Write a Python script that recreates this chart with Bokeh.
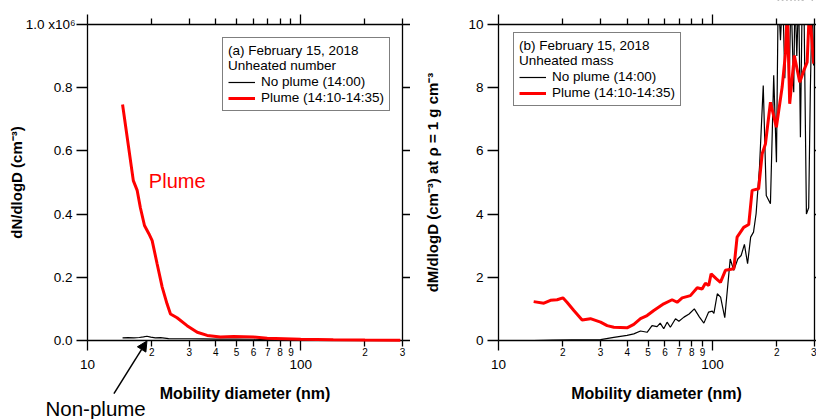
import math
from bokeh.plotting import figure
from bokeh.layouts import row
from bokeh.models import (Range1d, FixedTicker, LogAxis, LinearAxis, Label, Arrow,
                          NormalHead, Legend, LegendItem, BoxAnnotation)
from bokeh.embed import file_html
from bokeh.resources import INLINE

FONT = "Liberation Sans"

# ---------------- data ----------------
# x: mobility diameter (nm)
x_range_nm = [10, 300]
x_minor_ticks = [20, 30, 40, 50, 60, 70, 80, 90, 200, 300]
x_minor_labels = ["2", "3", "4", "5", "6", "7", "8", "9", "2", "3"]
x_major_ticks = [10, 100]
x_major_labels = ["10", "100"]

# panel (a) number distribution, dN/dlogD (cm^-3)
num_range = [0, 1000000]
num_yticks = [0, 200000, 400000, 600000, 800000, 1000000]
num_ylabels = ["0.0", "0.2", "0.4", "0.6", "0.8", ""]

num_plume_d = [14.6, 16.4, 17.1, 17.7, 18.5, 19.4, 20.1, 21.2, 22.4, 23.6, 24.5, 26.3,
               29.3, 32.7, 36.4, 42.0, 48.5, 60.0, 69.6, 100, 142, 200, 293]
num_plume_y = [747000, 506000, 475000, 420000, 364000, 338000, 316000, 243000, 169000,
               116000, 84000, 72000, 47000, 26000, 16000, 11000, 13000, 11000, 7000,
               4000, 2000, 1200, 1000]

num_noplume_d = [14.6, 15.5, 16.5, 17.5, 18.3, 19.0, 19.8, 20.8, 22.0, 24.0, 26.0, 30.0,
                 35.0, 40.0, 50.0, 60.0, 70.0, 80.0, 100, 150, 200, 293]
num_noplume_y = [8500, 9000, 8000, 9500, 11500, 13500, 10500, 8500, 9000, 6000, 5500, 5500,
                 5000, 4500, 4500, 4000, 3000, 2000, 1000, 600, 400, 200]

# panel (b) mass distribution, dM/dlogD at rho = 1 g cm^-3
mass_range = [0, 10]
mass_yticks = [0, 2, 4, 6, 8, 10]
mass_ylabels = ["0", "2", "4", "6", "8", "10"]

mass_plume_d = [14.6, 16.3, 17.5, 18.8, 20.0, 20.9, 22.5, 24.6, 26.9, 30.0, 32.2, 34.6,
                39.9, 42.9, 46.1, 49.5, 53.2, 59.2, 64.8, 68.4, 72.2, 78.9, 84.9, 89.5,
                92.7, 96.1, 98.6, 104.4, 109, 115, 125.9, 130.4, 140, 147.8, 153.3, 164.4,
                170.8, 176.9, 186.7, 199, 211.8, 219.4, 224, 229.7, 241.5, 255.9, 267.3,
                277.2, 284, 297.3]
mass_plume_y = [1.23, 1.18, 1.27, 1.29, 1.35, 1.21, 0.95, 0.65, 0.69, 0.58, 0.47, 0.42,
                0.40, 0.51, 0.69, 0.79, 0.95, 1.16, 1.29, 1.21, 1.35, 1.42, 1.67, 1.63,
                1.81, 1.74, 2.11, 1.95, 1.84, 2.22, 2.27, 3.27, 3.58, 3.67, 4.75, 4.80,
                5.91, 6.22, 7.54, 6.75, 8.02, 9.07, 10.5, 7.49, 9.02, 8.17, 8.54,
                8.81, 10.5, 8.76]

mass_noplume_d = [14.6, 18, 22, 26, 30, 34.6, 39.9, 42.9, 46.1, 49.5, 52.2, 55.1, 57.0,
                  59.2, 61.4, 63.6, 67.2, 69.7, 73.6, 77.8, 82.3, 87.0, 91.2, 96.0, 99.8,
                  101.6, 105.4, 109.2, 114.2, 121.1, 125.8, 131.4, 136.2, 141.1, 146.0,
                  150.9, 155.6, 160.0, 166, 172.8, 178.5, 186.7, 193.4, 199.2, 203, 208,
                  213, 218, 223, 228, 233, 239.9, 243, 248, 253, 257.8, 263, 268, 275,
                  281.8, 287, 293, 297]
mass_noplume_y = [0.0, 0.01, 0.02, 0.02, 0.03, 0.10, 0.16, 0.21, 0.30, 0.26, 0.47, 0.44,
                  0.55, 0.37, 0.58, 0.42, 0.69, 0.61, 0.74, 0.84, 1.00, 0.74, 0.55, 0.90,
                  0.93, 0.86, 1.48, 1.37, 0.72, 2.58, 2.22, 2.58, 2.69, 3.04, 2.43, 3.27,
                  3.43, 4.01, 5.5, 8.07, 4.59, 4.33, 8.39, 5.64, 11, 9.5, 11, 8.3, 11,
                  7.9, 11, 7.86, 11, 9.0, 11, 6.43, 11, 10.5, 4.0, 4.2, 8.0, 11, 8.7]

RED = "#ff0000"
AXW = 1.3

# ---------------- layout geometry (pixels) ----------------
FIG_H = 419
PT, PB = 24, 340             # plot-area top/bottom (same in both panels)
A_W, A_PL, A_PR = 410, 87, 402   # panel (a) canvas width, plot-area left/right
B_W, B_PL, B_PR = 406, 88, 404   # panel (b) canvas width, plot-area left/right


def line_style(ax):
    ax.axis_line_color = "black"
    ax.axis_line_width = AXW
    ax.major_tick_line_color = "black"
    ax.minor_tick_line_color = "black"
    ax.major_tick_line_width = AXW
    ax.minor_tick_line_width = AXW
    ax.major_tick_in = 0
    ax.minor_tick_in = 0


def make_panel(width, pl, pr, yrange, yticks, ylabels, ytitle, ytitle_standoff,
               right_tick_out):
    """Frame covers the whole canvas; axes are placed at fixed data locations."""
    dec_px = (pr - pl) / math.log10(x_range_nm[1] / x_range_nm[0])
    x_lo = 10 ** (math.log10(x_range_nm[0]) - pl / dec_px)
    x_hi = 10 ** (math.log10(x_range_nm[1]) + (width - pr) / dec_px)
    ypp = (yrange[1] - yrange[0]) / (PB - PT)
    y_lo = yrange[0] - (FIG_H - PB) * ypp
    y_hi = yrange[1] + PT * ypp

    p = figure(frame_width=width, frame_height=FIG_H, x_axis_type="log",
               x_range=Range1d(x_lo, x_hi), y_range=Range1d(y_lo, y_hi),
               output_backend="svg", toolbar_location=None,
               min_border_left=0, min_border_right=0, min_border_top=0,
               min_border_bottom=0)
    p.title.visible = False
    p.xgrid.visible = False
    p.ygrid.visible = False
    p.outline_line_color = None
    p.background_fill_color = "white"
    p.border_fill_color = "white"

    xb = (x_range_nm[0], x_range_nm[1])
    yb = (yrange[0], yrange[1])

    # bottom axis 1: ticks, small labels at 2..9
    ax = p.xaxis[0]
    ax.ticker = FixedTicker(ticks=x_minor_ticks, minor_ticks=x_major_ticks)
    ax.major_label_overrides = {t: l for t, l in zip(x_minor_ticks, x_minor_labels)}
    line_style(ax)
    ax.major_tick_out = 6
    ax.minor_tick_out = 10
    ax.major_label_standoff = -3
    ax.major_label_text_font = FONT
    ax.major_label_text_font_size = "10px"
    ax.major_label_text_color = "black"

    # bottom axis 2: decade labels and title
    ax2 = LogAxis(ticker=FixedTicker(ticks=x_major_ticks, minor_ticks=[]),
                  major_label_overrides={t: l for t, l in zip(x_major_ticks, x_major_labels)},
                  axis_line_color=None, major_tick_line_color=None,
                  minor_tick_line_color=None, major_tick_out=0, major_tick_in=0,
                  major_label_standoff=19,
                  major_label_text_font=FONT, major_label_text_font_size="13.5px",
                  major_label_text_color="black",
                  axis_label="Mobility diameter (nm)", axis_label_standoff=13,
                  axis_label_text_font=FONT, axis_label_text_font_size="16px",
                  axis_label_text_font_style="bold", axis_label_text_color="black")
    p.add_layout(ax2, "below")

    # top axis: ticks only
    axt = LogAxis(ticker=FixedTicker(ticks=x_major_ticks, minor_ticks=x_minor_ticks),
                  major_tick_out=10, minor_tick_out=6,
                  major_label_overrides={t: "" for t in x_major_ticks},
                  major_label_text_font_size="1px", major_label_standoff=0)
    line_style(axt)
    p.add_layout(axt, "above")

    # left axis
    ay = p.yaxis[0]
    ay.ticker = FixedTicker(ticks=yticks, minor_ticks=[])
    ay.major_label_overrides = {t: l for t, l in zip(yticks, ylabels)}
    line_style(ay)
    ay.major_tick_out = 11
    ay.minor_tick_line_color = None
    ay.major_label_standoff = 4
    ay.major_label_text_font = FONT
    ay.major_label_text_font_size = "13.5px"
    ay.major_label_text_color = "black"
    ay.axis_label = ytitle
    ay.axis_label_standoff = ytitle_standoff
    ay.axis_label_text_font = FONT
    ay.axis_label_text_font_size = "15px"
    ay.axis_label_text_font_style = "bold"
    ay.axis_label_text_color = "black"

    # right axis: ticks only
    ayr = LinearAxis(ticker=FixedTicker(ticks=yticks, minor_ticks=[]),
                     major_tick_out=right_tick_out,
                     major_label_overrides={t: "" for t in yticks},
                     major_label_text_font_size="1px", major_label_standoff=0)
    line_style(ayr)
    ayr.minor_tick_line_color = None
    p.add_layout(ayr, "right")

    for a in (ax, ax2):
        a.fixed_location = yb[0]
        a.bounds = xb
        a.level = "underlay"
    axt.fixed_location = yb[1]
    axt.bounds = xb
    ay.fixed_location = xb[0]
    ay.bounds = yb
    ayr.fixed_location = xb[1]
    ayr.bounds = yb
    return p, y_hi


def make_legend(title, r_black, r_red, location):
    return Legend(items=[LegendItem(label="No plume (14:00)", renderers=[r_black]),
                         LegendItem(label="Plume (14:10-14:35)", renderers=[r_red])],
                  location=location, title=title,
                  title_text_font=FONT, title_text_font_size="13.5px",
                  title_text_font_style="normal", title_text_color="black",
                  title_standoff=1,
                  label_text_font=FONT, label_text_font_size="13.5px",
                  label_text_color="black",
                  glyph_width=27, glyph_height=14, label_height=14, label_standoff=6,
                  spacing=1, padding=5, border_line_color="black",
                  border_line_width=1.2, background_fill_color="white",
                  background_fill_alpha=1.0)


# ---------------- panel (a) ----------------
pa, _ = make_panel(A_W, A_PL, A_PR, num_range, num_yticks, num_ylabels,
                   "dN/dlogD (cm\u207b\u00b3)", 26, 10)
rb_a = pa.line(num_noplume_d, num_noplume_y, line_color="black", line_width=1.2)
rr_a = pa.line(num_plume_d, num_plume_y, line_color=RED, line_width=3)
pa.add_layout(make_legend("(a) February 15, 2018\nUnheated number", rb_a, rr_a, (222, 308)))

pa.add_layout(Label(x=x_range_nm[0], y=num_range[1], x_offset=-12, text="1.0 x10\u2076",
                    text_align="right", text_baseline="middle", text_font=FONT,
                    text_font_size="13.5px", text_color="black"))
pa.add_layout(Label(x=19.4, y=506000, text="Plume", text_align="left",
                    text_baseline="alphabetic", text_font=FONT, text_font_size="20px",
                    text_color=RED))
pa.add_layout(Label(x=x_range_nm[0], y=-214000, x_offset=-42, text="Non-plume",
                    text_align="left", text_baseline="alphabetic", text_font=FONT,
                    text_font_size="20.5px", text_color="black"))
pa.add_layout(Arrow(end=NormalHead(size=10, fill_color="black", line_color="black"),
                    x_start=13.3, y_start=-168000, x_end=19.0, y_end=-1500,
                    line_color="black", line_width=1.5))

# ---------------- panel (b) ----------------
pb, pb_top = make_panel(B_W, B_PL, B_PR, mass_range, mass_yticks, mass_ylabels,
                        "dM/dlogD (cm\u207b\u00b3) at \u03c1 = 1 g cm\u207b\u00b3", 24, 2)
rb_b = pb.line(mass_noplume_d, mass_noplume_y, line_color="black", line_width=1.2)
rr_b = pb.line(mass_plume_d, mass_plume_y, line_color=RED, line_width=3)
# hide everything drawn above the top of the y range (acts as the plot-area clip)
pb.add_layout(BoxAnnotation(bottom=mass_range[1], top=pb_top * 1.5, fill_color="white",
                            fill_alpha=1.0, line_color=None, line_alpha=0, level="glyph"))
pb.add_layout(make_legend("(b) February 15, 2018\nUnheated mass", rb_b, rr_b, (103, 313)))

layout = row(pa, pb)
open("out.html", "w").write(file_html(layout, INLINE))
